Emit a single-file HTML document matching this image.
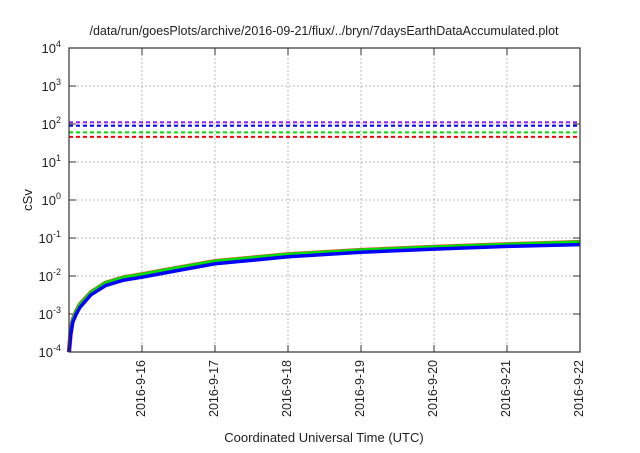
<!DOCTYPE html>
<html><head><meta charset="utf-8"><style>
body{margin:0;background:#fff;}
svg{font-family:"Liberation Sans",sans-serif;}
</style></head><body>
<svg id="chart" width="640" height="448" viewBox="0 0 640 448">
<text x="324" y="35" font-size="12.5" text-anchor="middle" fill="#222">/data/run/goesPlots/archive/2016-09-21/flux/../bryn/7daysEarthDataAccumulated.plot</text>
<g id="grid"></g>
<g id="axes"></g>
<g id="series"></g>
<rect x="69" y="48" width="511" height="304" fill="none" stroke="#333" stroke-width="1.2"/>
<text x="32" y="200" font-size="13" text-anchor="middle" fill="#222" transform="rotate(-90 32 200)">cSv</text>
<text x="324" y="442" font-size="13" text-anchor="middle" fill="#222">Coordinated Universal Time (UTC)</text>
</svg>
<script>
const xTickLabels=["2016-9-16","2016-9-17","2016-9-18","2016-9-19","2016-9-20","2016-9-21","2016-9-22"];
const xTickDays=[1,2,3,4,5,6,7];
const yTickExps=[-4,-3,-2,-1,0,1,2,3,4];
const thresholdValues=[111,90,60,46];
const thresholdColors=["#a020f0","#0000ff","#00dd00","#ff0000"];
const curveDays=[0,0.02,0.05,0.1,0.15,0.3,0.5,0.75,1,1.5,2,3,4,5,6,7];
const curveRed=[0.0001,0.0003,0.0007,0.0012,0.0018,0.0037,0.0066,0.0092,0.011,0.0165,0.0245,0.037,0.048,0.058,0.068,0.078];
const curveGreen=[0.0001,0.0003,0.0007,0.0012,0.0018,0.0037,0.0066,0.0092,0.011,0.0165,0.0245,0.037,0.048,0.058,0.068,0.078];
const curveBlue=[0.0001,0.00026,0.0006,0.001,0.0015,0.0032,0.0056,0.0078,0.0093,0.014,0.021,0.032,0.042,0.051,0.06,0.067];
const NS="http://www.w3.org/2000/svg";
const X0=69,X1=580,Y0=352,Y1=48;
function xs(d){return X0+(X1-X0)*d/7;}
function ys(v){return Y0-(Math.log10(v)+4)/8*(Y0-Y1);}
function mk(t,a,p){const e=document.createElementNS(NS,t);for(const k in a)e.setAttribute(k,a[k]);p.appendChild(e);return e;}
const grid=document.getElementById('grid'),axes=document.getElementById('axes'),ser=document.getElementById('series');
yTickExps.forEach(e=>{const y=ys(Math.pow(10,e));
 if(e>-4&&e<4){const g=mk('line',{x1:X0,x2:X1,y1:y,y2:y,stroke:'#bbb','stroke-dasharray':'2,2','stroke-width':1},grid);
 
 }
 const t1=mk('line',{x1:X0,x2:X0+7,y1:y,y2:y,stroke:'#333'},axes);
 
 
 const t2=mk('line',{x1:X1-7,x2:X1,y1:y,y2:y,stroke:'#333'},axes);
 
 
 const tx=mk('text',{x:X0-8,y:y+5,'font-size':13,'text-anchor':'end',fill:'#222'},axes);
 
 
 tx.textContent='10';const s=mk('tspan',{dy:-6,'font-size':9},tx);s.textContent=String(e);
});
xTickDays.forEach((d,i)=>{const x=xs(d);
 if(d<7){const g=mk('line',{x1:x,x2:x,y1:Y0,y2:Y1,stroke:'#bbb','stroke-dasharray':'2,2','stroke-width':1},grid);
 
 }
 const t1=mk('line',{x1:x,x2:x,y1:Y0,y2:Y0-7,stroke:'#333'},axes);
 
 
 const t2=mk('line',{x1:x,x2:x,y1:Y1,y2:Y1+7,stroke:'#333'},axes);
 
 
 const tx=mk('text',{x:x+3,y:Y0+8,'font-size':12.5,'text-anchor':'end',fill:'#222',transform:`rotate(-90 ${x+3} ${Y0+8})`},axes);
 
 
 tx.textContent=xTickLabels[i];
});
thresholdValues.forEach((v,i)=>{const y=ys(v);
 const l=mk('line',{x1:X0,x2:X1,y1:y,y2:y,stroke:thresholdColors[i],'stroke-width':2,'stroke-dasharray':'4,3'},ser);
 
 
});
function curve(vals,col,w,name){const d=vals.map((v,i)=>(i?'L':'M')+xs(curveDays[i]).toFixed(1)+','+ys(v).toFixed(1)).join('');
 const p=mk('path',{d:d,fill:'none',stroke:col,'stroke-width':w,'stroke-linejoin':'round'},ser);
 
 }
curve(curveRed,'#ff4040',4.5,'curve-red');
curve(curveGreen,'#00dd00',3.5,'curve-green');
curve(curveBlue,'#0000ff',3.5,'curve-blue');
</script>
</body></html>
